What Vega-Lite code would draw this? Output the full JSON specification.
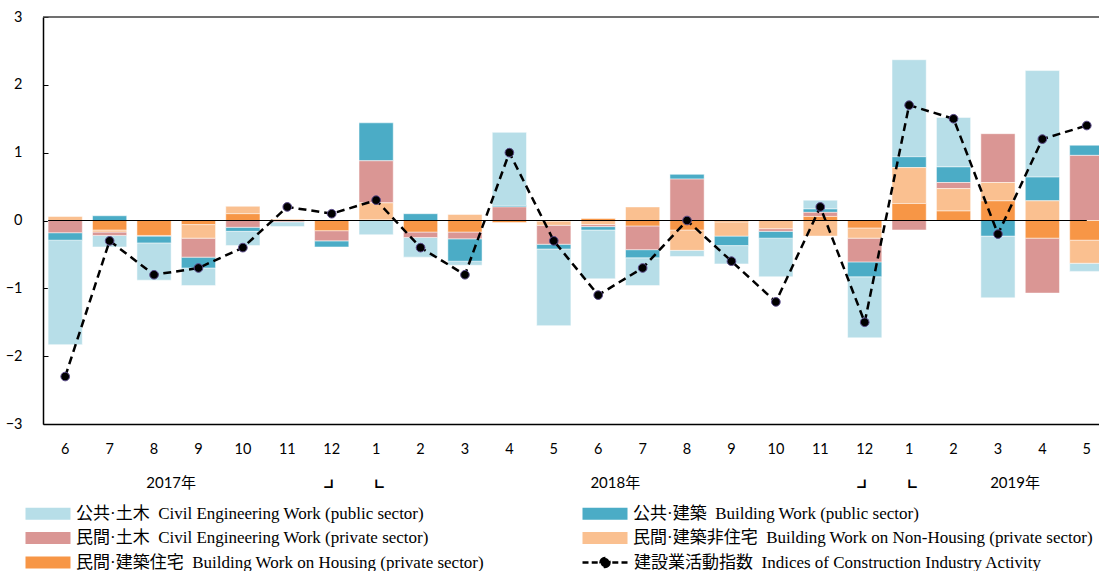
{
  "$schema": "https://vega.github.io/schema/vega-lite/v6.json",
  "autosize": {"type": "none"},
  "padding": {"left": 43, "top": 17, "right": 0, "bottom": 147},
  "width": 1056,
  "height": 407,
  "config": {
    "view": {"stroke": null},
    "axis": {"grid": false, "labelFont": "Lato", "labelFontSize": 14.5, "labelColor": "black"}
  },
  "datasets": {
    "m": [
      {"month": "2017-06", "cp": -1.54, "bp": -0.11, "pc": -0.18, "nh": 0.06, "h": 0, "idx": -2.3},
      {"month": "2017-07", "cp": -0.17, "bp": 0.07, "pc": -0.05, "nh": -0.03, "h": -0.14, "idx": -0.3},
      {"month": "2017-08", "cp": -0.55, "bp": -0.10, "pc": -0.01, "nh": 0, "h": -0.22, "idx": -0.8},
      {"month": "2017-09", "cp": -0.26, "bp": -0.16, "pc": -0.28, "nh": -0.20, "h": -0.06, "idx": -0.7},
      {"month": "2017-10", "cp": -0.21, "bp": -0.06, "pc": -0.10, "nh": 0.11, "h": 0.10, "idx": -0.4},
      {"month": "2017-11", "cp": -0.07, "bp": 0, "pc": -0.02, "nh": 0.02, "h": 0, "idx": 0.2},
      {"month": "2017-12", "cp": 0, "bp": -0.09, "pc": -0.15, "nh": 0, "h": -0.15, "idx": 0.1},
      {"month": "2018-01", "cp": -0.21, "bp": 0.56, "pc": 0.62, "nh": 0.25, "h": 0.01, "idx": 0.3},
      {"month": "2018-02", "cp": -0.29, "bp": 0.10, "pc": -0.08, "nh": 0, "h": -0.17, "idx": -0.4},
      {"month": "2018-03", "cp": -0.06, "bp": -0.33, "pc": -0.10, "nh": 0.09, "h": -0.17, "idx": -0.8},
      {"month": "2018-04", "cp": 1.08, "bp": 0.02, "pc": 0.20, "nh": 0, "h": -0.03, "idx": 1.0},
      {"month": "2018-05", "cp": -1.13, "bp": -0.07, "pc": -0.28, "nh": -0.06, "h": -0.01, "idx": -0.3},
      {"month": "2018-06", "cp": -0.72, "bp": -0.05, "pc": -0.03, "nh": -0.06, "h": 0.03, "idx": -1.1},
      {"month": "2018-07", "cp": -0.41, "bp": -0.12, "pc": -0.35, "nh": 0.20, "h": -0.08, "idx": -0.7},
      {"month": "2018-08", "cp": -0.09, "bp": 0.07, "pc": 0.61, "nh": -0.30, "h": -0.14, "idx": 0.0},
      {"month": "2018-09", "cp": -0.27, "bp": -0.14, "pc": 0, "nh": -0.21, "h": -0.02, "idx": -0.6},
      {"month": "2018-10", "cp": -0.57, "bp": -0.10, "pc": -0.04, "nh": -0.12, "h": 0, "idx": -1.2},
      {"month": "2018-11", "cp": 0.13, "bp": 0.05, "pc": 0.06, "nh": -0.23, "h": 0.06, "idx": 0.2},
      {"month": "2018-12", "cp": -0.90, "bp": -0.22, "pc": -0.35, "nh": -0.15, "h": -0.11, "idx": -1.5},
      {"month": "2019-01", "cp": 1.43, "bp": 0.16, "pc": -0.14, "nh": 0.53, "h": 0.25, "idx": 1.7},
      {"month": "2019-02", "cp": 0.73, "bp": 0.23, "pc": 0.09, "nh": 0.33, "h": 0.14, "idx": 1.5},
      {"month": "2019-03", "cp": -0.91, "bp": -0.23, "pc": 0.72, "nh": 0.27, "h": 0.29, "idx": -0.2},
      {"month": "2019-04", "cp": 1.57, "bp": 0.35, "pc": -0.81, "nh": 0.29, "h": -0.26, "idx": 1.2},
      {"month": "2019-05", "cp": -0.12, "bp": 0.15, "pc": 0.96, "nh": -0.34, "h": -0.29, "idx": 1.4}
    ],
    "yr": [
      {"month": "2017-08", "t": "2017年"},
      {"month": "2018-06", "t": "2018年"},
      {"month": "2019-03", "t": "2019年"}
    ],
    "mk": [
      {"month": "2017-12", "t": "┛"},
      {"month": "2018-01", "t": "┗"},
      {"month": "2018-12", "t": "┛"},
      {"month": "2019-01", "t": "┗"}
    ]
  },
  "layer": [
    {
      "data": {"name": "m"},
      "transform": [
        {"fold": ["cp", "bp", "pc", "nh", "h"], "as": ["key", "value"]},
        {"calculate": "indexof(['h','nh','pc','bp','cp'], datum.key)", "as": "ord"}
      ],
      "mark": {"type": "bar", "stroke": "white", "strokeWidth": 0.5},
      "encoding": {
        "x": {
          "field": "month", "type": "ordinal", "title": null,
          "scale": {"range": [0, 1066], "paddingInner": 0.23, "paddingOuter": 0.115},
          "axis": {"ticks": false, "domainColor": "black", "domainWidth": 1.5, "labelPadding": 18, "labelAngle": 0,
                   "labelExpr": "toNumber(slice(datum.value, 5))"}
        },
        "y": {
          "field": "value", "type": "quantitative", "stack": "zero", "title": null,
          "scale": {"domain": [-3, 3], "nice": false, "zero": false},
          "axis": {"values": [-3, -2, -1, 0, 1, 2, 3], "domainColor": "black", "domainWidth": 1.5,
                   "tickColor": "black", "tickSize": -5, "tickWidth": 1, "labelPadding": 26, "format": "d"}
        },
        "color": {
          "field": "key", "type": "nominal",
          "scale": {"domain": ["cp", "bp", "pc", "nh", "h"],
                    "range": ["#B7DEE8", "#4BACC6", "#DA9694", "#FAC090", "#F79646"]},
          "legend": {
            "orient": "none", "legendX": -18, "legendY": 488, "columns": 2, "direction": "horizontal", "title": null,
            "symbolType": "M-1,-0.75H4.625V0.75H-1Z", "symbolSize": 256, "symbolStrokeWidth": 0,
            "labelFont": "Liberation Serif, Noto Sans CJK JP", "labelFontSize": 17, "labelColor": "black",
            "labelOffset": 34, "rowPadding": 6.5, "columnPadding": 98, "labelLimit": 700, "padding": 0,
            "labelExpr": "{cp:'公共·土木\u2002Civil Engineering Work (public sector)', bp:'公共·建築\u2002Building Work (public sector)', pc:'民間·土木\u2002Civil Engineering Work (private sector)', nh:'民間·建築非住宅\u2002Building Work on Non-Housing (private sector)', h:'民間·建築住宅\u2002Building Work on Housing (private sector)'}[datum.value]"
          }
        },
        "order": {"field": "ord", "type": "quantitative"}
      }
    },
    {
      "data": {"values": [{}]},
      "mark": {"type": "rule", "color": "#404040", "strokeWidth": 1.5},
      "encoding": {"y": {"datum": 3, "title": null}}
    },
    {
      "data": {"values": [{}]},
      "mark": {"type": "rule", "color": "black", "strokeWidth": 1.2},
      "encoding": {
        "y": {"datum": 0, "title": null},
        "x": {"datum": "2017-06", "type": "ordinal", "bandPosition": 0, "title": null},
        "x2": {"datum": "2019-05"}
      }
    },
    {
      "data": {"name": "m"},
      "mark": {"type": "line", "color": "black", "strokeWidth": 2.5},
      "encoding": {
        "x": {"field": "month", "type": "ordinal", "title": null},
        "y": {"field": "idx", "type": "quantitative", "title": null},
        "strokeDash": {
          "datum": "idx", "type": "nominal",
          "scale": {"domain": ["idx"], "range": [[8, 5]]},
          "legend": {
            "orient": "none", "legendX": 538, "legendY": 536, "title": null,
            "symbolType": "M-1,0H-0.25M0.15,0H0.9M2.725,0H3.475M3.875,0H4.625M2.375,0A0.5625,0.5625,0,1,1,1.25,0A0.5625,0.5625,0,1,1,2.375,0Z",
            "symbolSize": 256, "symbolStrokeWidth": 2.5, "symbolStrokeColor": "black", "symbolFillColor": "black",
            "labelFont": "Liberation Serif, Noto Sans CJK JP", "labelFontSize": 17, "labelColor": "black",
            "labelOffset": 34, "labelLimit": 700, "padding": 0,
            "labelExpr": "'建設業活動指数\u2002Indices of Construction Industry Activity'"
          }
        }
      }
    },
    {
      "data": {"name": "m"},
      "mark": {"type": "point", "filled": true, "color": "black", "stroke": "#5A4A8A", "strokeWidth": 1, "size": 75, "opacity": 1},
      "encoding": {
        "x": {"field": "month", "type": "ordinal", "title": null},
        "y": {"field": "idx", "type": "quantitative", "title": null}
      }
    },
    {
      "data": {"name": "yr"},
      "mark": {"type": "text", "font": "Lato, Noto Sans CJK JP", "fontSize": 15, "color": "black", "baseline": "middle", "align": "center"},
      "encoding": {
        "x": {"field": "month", "type": "ordinal", "bandPosition": 1, "title": null},
        "y": {"datum": -3.87, "title": null},
        "text": {"field": "t"}
      }
    },
    {
      "data": {"name": "mk"},
      "mark": {"type": "text", "font": "Noto Sans CJK JP", "fontSize": 15, "color": "black", "baseline": "middle", "align": "center"},
      "encoding": {
        "x": {"field": "month", "type": "ordinal", "title": null},
        "y": {"datum": -3.94, "title": null},
        "text": {"field": "t"}
      }
    }
  ]
}
